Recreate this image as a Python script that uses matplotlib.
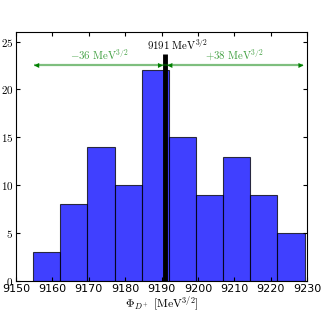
import matplotlib
matplotlib.use("Agg")
import matplotlib.pyplot as plt
import numpy as np

plt.rcParams['mathtext.fontset'] = 'cm'

# histogram data
bin_edges = np.linspace(9154.7, 9229.3, 11)
counts = [3, 8, 14, 10, 22, 15, 9, 13, 9, 5]
central = 9191
low_val = 9155
high_val = 9229
low_label = r'$-36\ \mathrm{MeV}^{3/2}$'
high_label = r'$+38\ \mathrm{MeV}^{3/2}$'
central_label = r'$9191\ \mathrm{MeV}^{3/2}$'
x_ticks = [9150, 9160, 9170, 9180, 9190, 9200, 9210, 9220, 9230]
y_ticks = [0, 5, 10, 15, 20, 25]

fig = plt.figure(figsize=(3.26, 3.13), dpi=100)
ax = fig.add_axes([0.049, 0.102, 0.893, 0.796])

centers = 0.5 * (bin_edges[:-1] + bin_edges[1:])
ax.hist(centers, bins=bin_edges, weights=counts, color='blue', alpha=0.75,
        edgecolor='black', linewidth=0.8)

# central value
ax.vlines(central, 0, 23.7, color='black', linewidth=3.5)
ax.text(9186, 23.9, central_label, ha='left', va='bottom', fontsize=7.8)

# asymmetric error arrows
arrow_y = 22.5
ax.hlines(arrow_y, low_val, high_val, color='green', alpha=0.5, linewidth=1.6)
for a, b in [(low_val, central - 0.6), (central + 0.6, high_val)]:
    ax.annotate('', xy=(a, arrow_y), xytext=(b, arrow_y),
                arrowprops=dict(arrowstyle='<|-|>', color='green', lw=0.01,
                                mutation_scale=9, shrinkA=0, shrinkB=0))
ax.text(0.5 * (low_val + central), 22.9, low_label, color='green', alpha=0.75,
        ha='center', va='bottom', fontsize=7.8)
ax.text(0.5 * (high_val + central), 22.9, high_label, color='green', alpha=0.75,
        ha='center', va='bottom', fontsize=7.8)

ax.set_xlim(9150, 9230)
ax.set_ylim(0, 26)
ax.set_xticks(x_ticks)
ax.set_xticklabels([str(t) for t in x_ticks], fontsize=8)
ax.set_yticks(y_ticks)
ax.set_yticklabels([r'$%d$' % t for t in y_ticks], fontsize=8)
ax.tick_params(direction='in', top=True, right=True, length=3, pad=2)
ax.set_xlabel(r'$\Phi_{D^+}\ [\mathrm{MeV}^{3/2}]$', fontsize=8.5, labelpad=0)

fig.savefig('out.png', dpi=100)
